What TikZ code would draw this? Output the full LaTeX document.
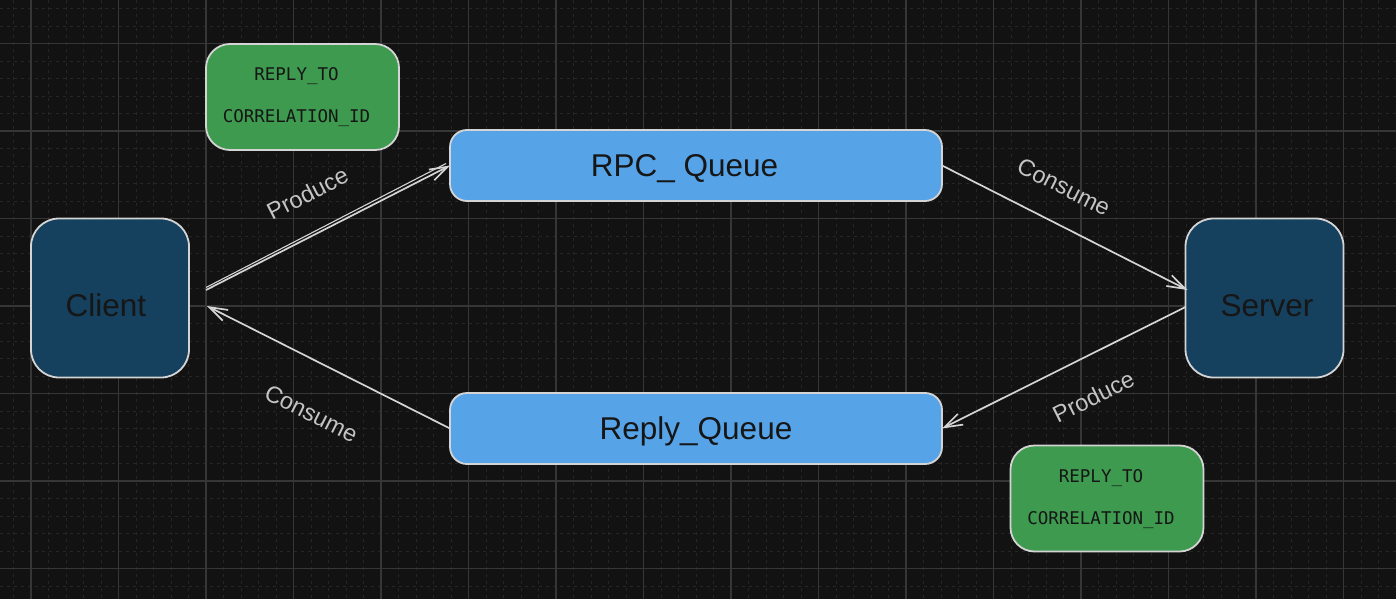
\documentclass[tikz,border=0pt]{standalone}
\usepackage{fontspec}
\setmainfont{Liberation Sans}
\newfontfamily\monofont{DejaVu Sans Mono}
\usetikzlibrary{arrows.meta}
\definecolor{bg}{HTML}{121212}
\definecolor{gridmajor}{HTML}{363636}
\definecolor{gridminor}{HTML}{262626}
\definecolor{navy}{HTML}{15405E}
\definecolor{qblue}{HTML}{56A3E8}
\definecolor{mgreen}{HTML}{3D9A4F}
\definecolor{edgegray}{HTML}{D4D4D4}
\definecolor{ink}{HTML}{161616}
\definecolor{lblgray}{HTML}{C4C4C4}
\begin{document}
\begin{tikzpicture}[x=1pt,y=-1pt,
  box/.style={draw=edgegray, line width=1.8pt, outer sep=0pt, inner sep=0pt, text=ink},
  endpoint/.style={box, fill=navy, rounded corners=28pt, minimum width=158pt, minimum height=159pt,
    font=\fontsize{31.5}{37}\selectfont, text height=37pt, text depth=0pt},
  queue/.style={box, fill=qblue, rounded corners=17pt, minimum width=492pt, minimum height=71pt,
    font=\fontsize{31.5}{37}\selectfont, text height=22pt, text depth=0pt},
  meta/.style={box, fill=mgreen, rounded corners=24pt, minimum width=193pt, minimum height=106pt,
    align=center, font=\monofont\fontsize{17.5}{42}\selectfont, text depth=4pt},
  conn/.style={draw=edgegray, line width=1.7pt, -{Straight Barb[length=18pt,width=12pt,line width=1.7pt]}},
  sketch/.style={draw=edgegray, line width=1.1pt},
  lbl/.style={font=\fontsize{23.5}{28}\selectfont, text=lblgray, sloped, inner sep=0pt, anchor=center},
  minorgrid/.style={draw=gridminor, line width=0.8pt, dash pattern=on 3pt off 4pt},
  majorgrid/.style={draw=gridmajor, line width=1.1pt}
]
\useasboundingbox (0,0) rectangle (1396,599);
\fill[bg] (0,0) rectangle (1396,599);
% grid
\foreach \i in {0,...,79} \draw[minorgrid] ({13.5+17.5*\i},0) -- ({13.5+17.5*\i},599);
\foreach \j in {0,...,33} \draw[minorgrid] (0,{8.5+17.5*\j}) -- (1396,{8.5+17.5*\j});
\foreach \i in {0,...,15} \draw[majorgrid] ({31+87.5*\i},0) -- ({31+87.5*\i},599);
\foreach \j in {0,...,6} \draw[majorgrid] (0,{43.5+87.5*\j}) -- (1396,{43.5+87.5*\j});
% nodes
\node[endpoint] (client) at (110,298) {Client\hspace*{8pt}};
\node[endpoint] (server) at (1264.5,298) {\hspace*{5pt}Server};
\node[queue] (rpc) at (696,165.5) {RPC\_ Queue\hspace*{23pt}};
\node[queue] (reply) at (696,428.5) {Reply\_Queue};
\node[meta] (meta1) at (302.5,97) {REPLY\_TO\hspace*{12pt}\\CORRELATION\_ID\hspace*{12pt}};
\node[meta] (meta2) at (1107,498.5) {REPLY\_TO\hspace*{12pt}\\CORRELATION\_ID\hspace*{12pt}};
% connectors
\draw[conn] ([xshift=17pt,yshift=8pt]client.east) -- (rpc.west)
  node[lbl, pos=0.49, yshift=40pt] {Produce};
\draw[sketch] ([xshift=17pt,yshift=10.5pt]client.east) -- ([xshift=-4pt,yshift=2pt]rpc.west);
\draw[conn] (rpc.east) -- ([xshift=2pt,yshift=8pt]server.west)
  node[lbl, pos=0.43, yshift=36pt] {Consume};
\draw[conn] (reply.west) -- ([xshift=18pt,yshift=-8pt]client.east)
  node[lbl, pos=0.48, yshift=-49pt] {Consume};
\draw[conn] ([yshift=-9pt]server.west) -- (reply.east)
  node[lbl, pos=0.45, yshift=-39pt] {Produce};
\end{tikzpicture}
\end{document}
